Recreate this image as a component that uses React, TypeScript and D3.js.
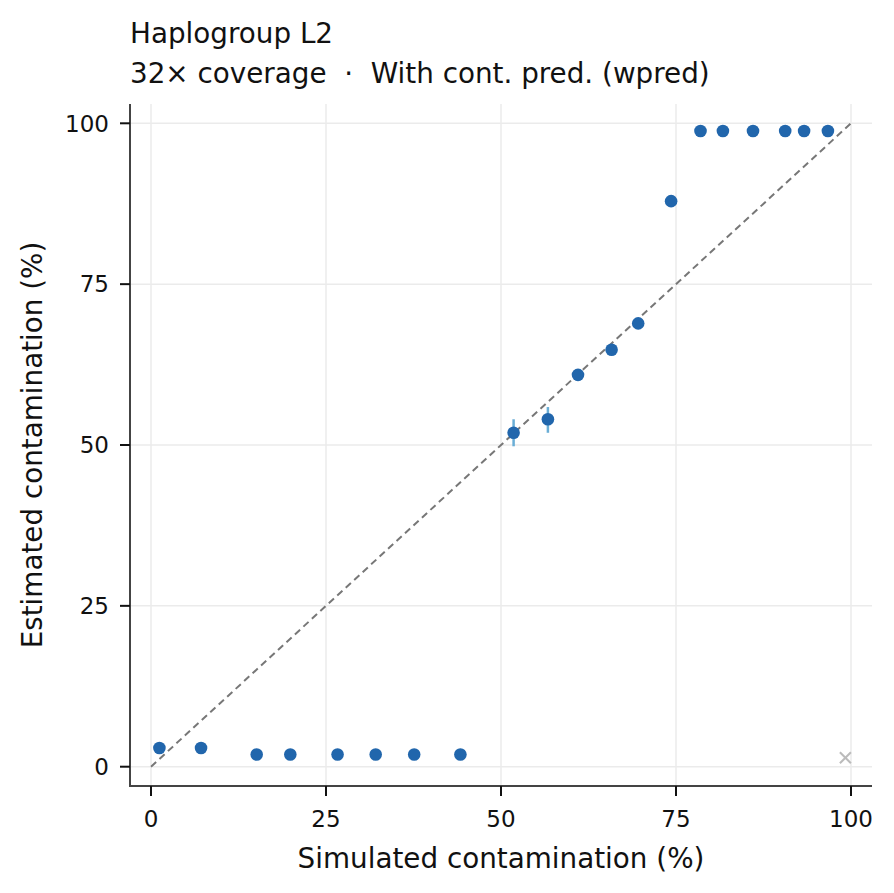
import React from "react";
import * as d3 from "d3";

const simulated = [1.2, 7.15, 15.1, 19.9, 26.65, 32.1, 37.6, 44.2, 51.8, 56.7, 61.0, 65.8, 69.6, 74.3, 78.5, 81.7, 86.0, 90.6, 93.3, 96.7];
const estimated = [2.9, 2.9, 1.9, 1.9, 1.9, 1.9, 1.9, 1.9, 51.9, 54.0, 60.9, 64.8, 68.9, 87.9, 98.8, 98.8, 98.8, 98.8, 98.8, 98.8];
const errLow = [2.9, 2.9, 1.9, 1.9, 1.9, 1.9, 1.9, 1.9, 49.8, 51.9, 60.9, 64.8, 68.9, 87.9, 98.8, 98.8, 98.8, 98.8, 98.8, 98.8];
const errHigh = [2.9, 2.9, 1.9, 1.9, 1.9, 1.9, 1.9, 1.9, 54.0, 55.9, 60.9, 64.8, 68.9, 87.9, 98.8, 98.8, 98.8, 98.8, 98.8, 98.8];
const failedX = [99.2];
const failedY = [1.4];
const ticks = [0, 25, 50, 75, 100];

const title = "Haplogroup L2";
const subtitle = "32× coverage  ·  With cont. pred. (wpred)";
const xLabel = "Simulated contamination (%)";
const yLabel = "Estimated contamination (%)";

const W = 894;
const H = 893;
const left = 130;
const right = 872;
const top = 104;
const bottom = 786;

export default function App() {
  const x = d3.scaleLinear().domain([-3, 103]).range([left, right]);
  const y = d3.scaleLinear().domain([-3, 103]).range([bottom, top]);
  const font = "DejaVu Sans, sans-serif";
  const diag = d3.line<number>().x((d) => x(d)).y((d) => y(d))([0, 100]) || "";

  return (
    <div style={{ margin: -8 }}>
      <svg width={W} height={H} style={{ display: "block", background: "#fff" }} fontFamily={font}>
        {ticks.map((t) => (
          <line key={"gx" + t} x1={x(t)} x2={x(t)} y1={top} y2={bottom} stroke="#ebebeb" strokeWidth={1.5} />
        ))}
        {ticks.map((t) => (
          <line key={"gy" + t} x1={left} x2={right} y1={y(t)} y2={y(t)} stroke="#ebebeb" strokeWidth={1.5} />
        ))}
        <path d={diag} stroke="#777" strokeWidth={2} strokeDasharray="7,4.5" fill="none" />
        {simulated.map((s, i) => (
          <line key={"e" + i} x1={x(s)} x2={x(s)} y1={y(errLow[i])} y2={y(errHigh[i])} stroke="#6aaed6" strokeWidth={2.5} />
        ))}
        {simulated.map((s, i) => (
          <circle key={"p" + i} cx={x(s)} cy={y(estimated[i])} r={6.3} fill="#2166ac" />
        ))}
        {failedX.map((fx, i) => {
          const cx = x(fx);
          const cy = y(failedY[i]);
          const s = 5.5;
          return (
            <g key={"f" + i} stroke="#bbbbbb" strokeWidth={2}>
              <line x1={cx - s} x2={cx + s} y1={cy - s} y2={cy + s} />
              <line x1={cx - s} x2={cx + s} y1={cy + s} y2={cy - s} />
            </g>
          );
        })}
        <line x1={left} x2={left} y1={top} y2={bottom + 1} stroke="#444" strokeWidth={2} />
        <line x1={left - 1} x2={right} y1={bottom} y2={bottom} stroke="#444" strokeWidth={2} />
        {ticks.map((t) => (
          <g key={"ty" + t}>
            <line x1={left - 10} x2={left} y1={y(t)} y2={y(t)} stroke="#111" strokeWidth={2} />
            <text x={left - 21} y={y(t)} dy="0.36em" textAnchor="end" fontSize={23} fill="#111">
              {t}
            </text>
          </g>
        ))}
        {ticks.map((t) => (
          <g key={"tx" + t}>
            <line x1={x(t)} x2={x(t)} y1={bottom} y2={bottom + 10} stroke="#111" strokeWidth={2} />
            <text x={x(t)} y={827} textAnchor="middle" fontSize={23} fill="#111">
              {t}
            </text>
          </g>
        ))}
        <text x={(left + right) / 2} y={868} textAnchor="middle" fontSize={27.8} fill="#111">
          {xLabel}
        </text>
        <text transform={`translate(42, ${(top + bottom) / 2}) rotate(-90)`} textAnchor="middle" fontSize={27.8} fill="#111">
          {yLabel}
        </text>
        <text x={130} y={43} fontSize={27.8} fill="#111">
          {title}
        </text>
        <text x={130} y={83} fontSize={27.8} fill="#111" style={{ whiteSpace: "pre" }}>
          {subtitle}
        </text>
      </svg>
    </div>
  );
}
